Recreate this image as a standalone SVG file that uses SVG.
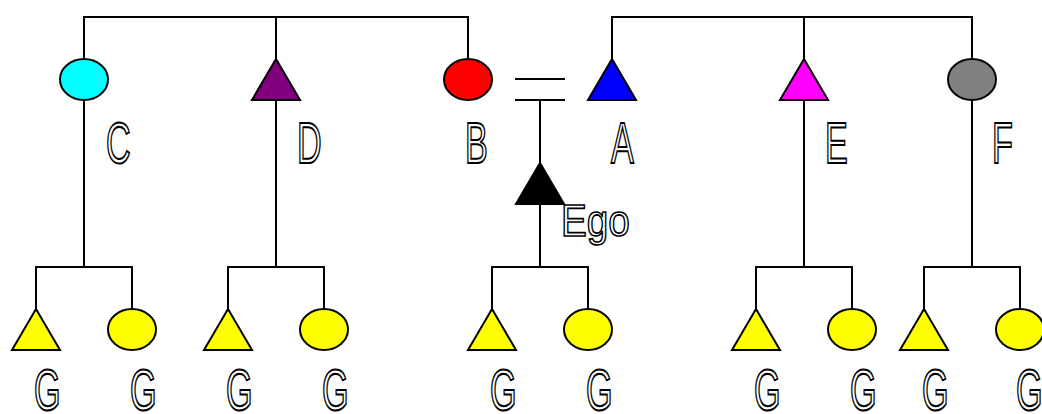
<svg xmlns="http://www.w3.org/2000/svg" width="1042" height="414" viewBox="0 0 1042 414">
<style>
.ln{fill:none;stroke:#000;stroke-width:2;stroke-linecap:square}
.sh{stroke:#000;stroke-width:2}
.lb{font-family:"Liberation Sans",Arial,sans-serif;font-size:57px;fill:#fff;stroke:#000;stroke-width:2}
.eg{font-family:"Liberation Sans",Arial,sans-serif;font-size:45px;fill:#fff;stroke:#000;stroke-width:1.6}
</style>
<rect width="1042" height="414" fill="#fff"/>
<g id="connectors" class="ln">
<path d="M84 59V17H468V59M276 17V59"/>
<path d="M612 59V17H972V59M804 17V59"/>
<path d="M516 79H564M516 100H564M540 100V163"/>
<path d="M84 100V267M36 309V267H132V309"/>
<path d="M276 100V267M228 309V267H324V309"/>
<path d="M540 204V267M492 309V267H588V309"/>
<path d="M804 100V267M756 309V267H852V309"/>
<path d="M972 100V267M924 309V267H1020V309"/>
</g>
<g id="C"><ellipse class="sh" cx="84" cy="79.5" rx="24" ry="20.5" fill="#00ffff"/><text class="lb" transform="translate(106,163) scale(0.6,1)">C</text></g>
<g id="D"><polygon class="sh" points="276,59 300,100 252,100" fill="#800080"/><text class="lb" transform="translate(297,163) scale(0.6,1)">D</text></g>
<g id="B"><ellipse class="sh" cx="468" cy="79.5" rx="24" ry="20.5" fill="#ff0000"/><text class="lb" transform="translate(465,163) scale(0.6,1)">B</text></g>
<g id="A"><polygon class="sh" points="612,59 636,100 588,100" fill="#0000ff"/><text class="lb" transform="translate(611,163) scale(0.6,1)">A</text></g>
<g id="E"><polygon class="sh" points="804,59 828,100 780,100" fill="#ff00ff"/><text class="lb" transform="translate(825,163) scale(0.6,1)">E</text></g>
<g id="F"><ellipse class="sh" cx="972" cy="79.5" rx="24" ry="20.5" fill="#808080"/><text class="lb" transform="translate(992,163) scale(0.6,1)">F</text></g>
<g id="Ego"><polygon class="sh" points="540,163 564,204 516,204" fill="#000"/><text class="eg" transform="translate(561,236) scale(0.86,1)">Ego</text></g>
<g id="G1"><polygon class="sh" points="36,309 60,350 12,350" fill="#ffff00"/><text class="lb" transform="translate(34,410) scale(0.6,1)">G</text></g>
<g id="G2"><ellipse class="sh" cx="132" cy="329.5" rx="24" ry="20.5" fill="#ffff00"/><text class="lb" transform="translate(130,410) scale(0.6,1)">G</text></g>
<g id="G3"><polygon class="sh" points="228,309 252,350 204,350" fill="#ffff00"/><text class="lb" transform="translate(226,410) scale(0.6,1)">G</text></g>
<g id="G4"><ellipse class="sh" cx="324" cy="329.5" rx="24" ry="20.5" fill="#ffff00"/><text class="lb" transform="translate(322,410) scale(0.6,1)">G</text></g>
<g id="G5"><polygon class="sh" points="492,309 516,350 468,350" fill="#ffff00"/><text class="lb" transform="translate(490,410) scale(0.6,1)">G</text></g>
<g id="G6"><ellipse class="sh" cx="588" cy="329.5" rx="24" ry="20.5" fill="#ffff00"/><text class="lb" transform="translate(586,410) scale(0.6,1)">G</text></g>
<g id="G7"><polygon class="sh" points="756,309 780,350 732,350" fill="#ffff00"/><text class="lb" transform="translate(754,410) scale(0.6,1)">G</text></g>
<g id="G8"><ellipse class="sh" cx="852" cy="329.5" rx="24" ry="20.5" fill="#ffff00"/><text class="lb" transform="translate(850,410) scale(0.6,1)">G</text></g>
<g id="G9"><polygon class="sh" points="924,309 948,350 900,350" fill="#ffff00"/><text class="lb" transform="translate(922,410) scale(0.6,1)">G</text></g>
<g id="G10"><ellipse class="sh" cx="1020" cy="329.5" rx="24" ry="20.5" fill="#ffff00"/><text class="lb" transform="translate(1016,410) scale(0.6,1)">G</text></g>
</svg>
